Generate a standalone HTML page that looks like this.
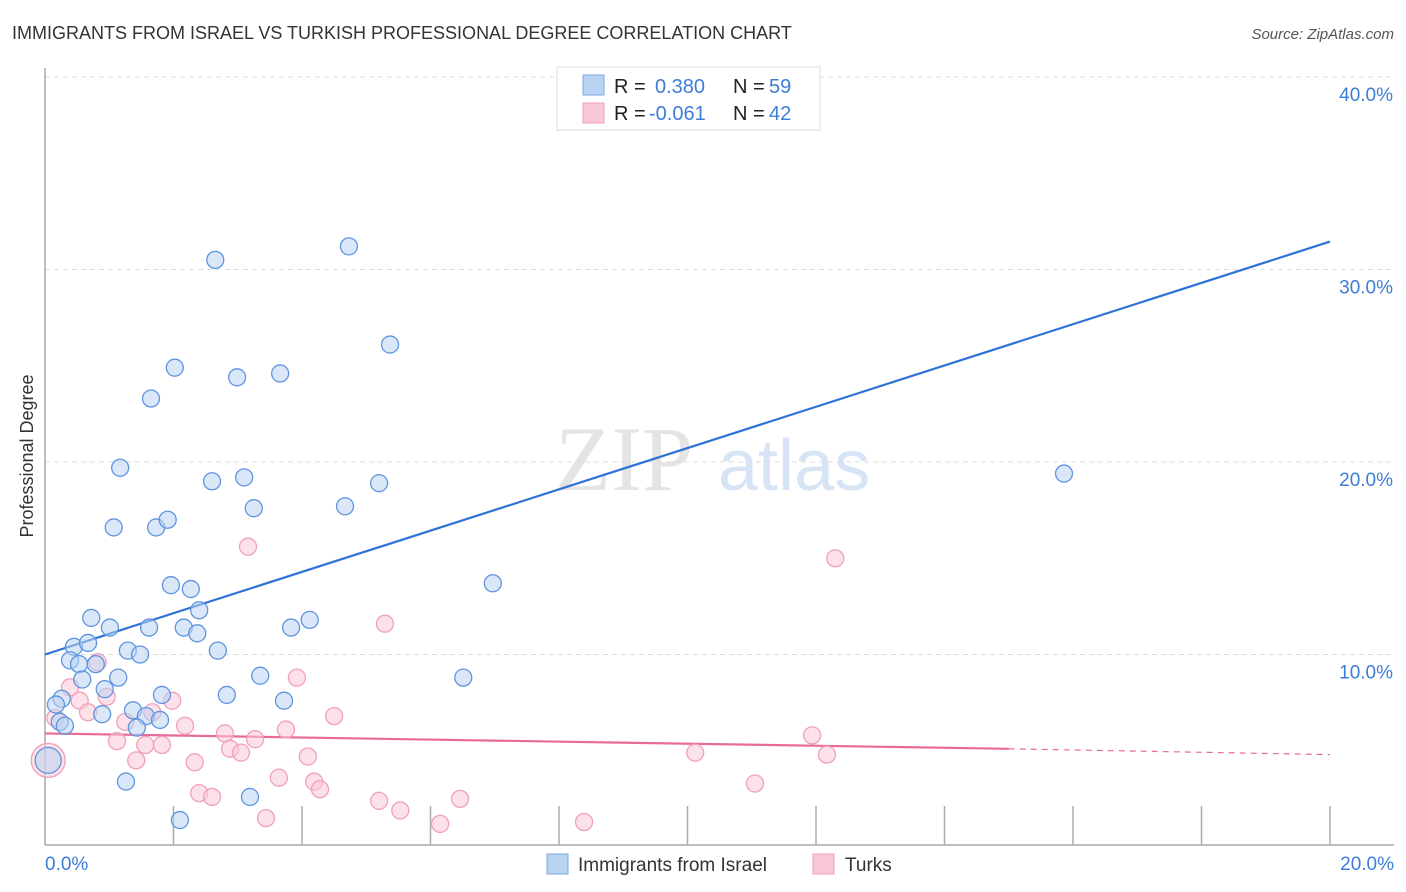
<!DOCTYPE html>
<html><head><meta charset="utf-8"><style>
body{margin:0;background:#fff;font-family:"Liberation Sans",sans-serif;}
svg{display:block}
</style></head><body>
<svg id="chart" width="1406" height="892" viewBox="0 0 1406 892">
<text x="12" y="39" font-size="18" fill="#333">IMMIGRANTS FROM ISRAEL VS TURKISH PROFESSIONAL DEGREE CORRELATION CHART</text>
<text x="1394" y="39" font-size="15" fill="#555" font-style="italic" text-anchor="end">Source: ZipAtlas.com</text>
<text transform="translate(33,456) rotate(-90)" font-size="18" fill="#333" text-anchor="middle">Professional Degree</text>
<g><text x="555" y="490" font-size="92" fill="#e4e4e4" font-family="Liberation Serif,serif">ZIP</text><text x="718" y="490" font-size="72" fill="#d6e4f5">atlas</text></g>
<g id="grid"></g><g id="axes"></g><g id="lines"></g><g id="pts"></g>
<g>
<rect x="557" y="67" width="263" height="63" fill="#fff" stroke="#ddd"/>
<rect x="583" y="75" width="21" height="20" fill="#b9d3f3" stroke="#7aa9e6"/>
<rect x="583" y="103" width="21" height="20" fill="#f9c8d7" stroke="#f0a0ba"/>
<text x="614" y="93" font-size="20" fill="#222">R = </text><text x="655" y="93" font-size="20" fill="#3d7dd8">0.380</text>
<text x="733" y="93" font-size="20" fill="#222">N = </text><text x="769" y="93" font-size="20" fill="#3d7dd8">59</text>
<text x="614" y="120" font-size="20" fill="#222">R = </text><text x="649" y="120" font-size="20" fill="#3d7dd8">-0.061</text>
<text x="733" y="120" font-size="20" fill="#222">N = </text><text x="769" y="120" font-size="20" fill="#3d7dd8">42</text>
</g>
<g>
<rect x="547" y="854" width="21" height="20" fill="#b9d3f3" stroke="#7aa9e6"/>
<text x="578" y="871" font-size="19" fill="#333">Immigrants from Israel</text>
<rect x="813" y="854" width="21" height="20" fill="#f9c8d7" stroke="#f0a0ba"/>
<text x="845" y="871" font-size="19" fill="#333">Turks</text>
</g>
</svg>
<script>
const yTicks=[10,20,30,40];
const xTickLabels=["0.0%","20.0%"];
const israelX=[2.65,4.73,5.37,2.02,2.99,3.66,1.65,1.17,2.60,3.10,5.20,15.86,1.07,1.73,1.91,3.25,4.67,1.96,2.27,2.40,6.97,0.72,1.01,1.62,2.16,2.37,3.83,4.12,0.45,0.67,0.39,0.53,0.79,1.29,1.48,2.69,0.58,1.14,3.35,6.51,0.26,0.93,0.17,1.82,2.83,3.72,0.89,1.37,1.57,1.79,0.23,0.31,1.43,0.05,1.26,3.19,2.10];
const israelY=[30.5,31.2,26.1,24.9,24.4,24.6,23.3,19.7,19.0,19.2,18.9,19.4,16.6,16.6,17.0,17.6,17.7,13.6,13.4,12.3,13.7,11.9,11.4,11.4,11.4,11.1,11.4,11.8,10.4,10.6,9.7,9.5,9.5,10.2,10.0,10.2,8.7,8.8,8.9,8.8,7.7,8.2,7.4,7.9,7.9,7.6,6.9,7.1,6.8,6.6,6.5,6.3,6.2,4.5,3.4,2.6,1.4];
const israelBig=[53];
const turksX=[3.16,12.30,5.29,0.82,3.92,0.39,0.54,0.96,1.98,0.67,1.67,4.50,0.16,1.25,2.18,2.80,3.75,3.27,1.12,1.56,1.82,2.88,3.05,4.09,10.12,11.94,12.17,1.42,2.33,0.05,3.64,4.19,4.28,2.40,2.60,5.20,6.46,5.53,3.44,6.15,8.39,11.05];
const turksY=[15.6,15.0,11.6,9.6,8.8,8.3,7.6,7.8,7.6,7.0,7.0,6.8,6.7,6.5,6.3,5.9,6.1,5.6,5.5,5.3,5.3,5.1,4.9,4.7,4.9,5.8,4.8,4.5,4.4,4.5,3.6,3.4,3.0,2.8,2.6,2.4,2.5,1.9,1.5,1.2,1.3,3.3];
const turksBig=[29];
const israelTrend=[10.0,31.45];
const turksTrend=[5.9,5.1,4.8];
const NS="http://www.w3.org/2000/svg";
const sx=v=>45+v*64.25, sy=v=>847-v*19.25;
function mk(tag,attrs,parent){const e=document.createElementNS(NS,tag);for(const k in attrs)e.setAttribute(k,attrs[k]);parent.appendChild(e);return e;}
const grid=document.getElementById('grid'),axes=document.getElementById('axes'),lines=document.getElementById('lines'),pts=document.getElementById('pts');
yTicks.forEach(t=>{
 const l=mk('line',{x1:45,x2:1394,y1:sy(t),y2:sy(t),stroke:'#ddd','stroke-dasharray':'5,4'},grid);
 
 
 const tx=mk('text',{x:1393,y:sy(t)+24,'font-size':19,fill:'#3d7dd8','text-anchor':'end'},grid);
 tx.textContent=t.toFixed(1)+'%';
 
 
});
mk('line',{x1:45,x2:45,y1:68,y2:845,stroke:'#aaa','stroke-width':1.5},axes);
mk('line',{x1:45,x2:1394,y1:845,y2:845,stroke:'#aaa','stroke-width':1.5},axes);
for(let i=1;i<=10;i++){const x=sx(i*2);const t=mk('line',{x1:x,x2:x,y1:806,y2:845,stroke:'#aaa','stroke-width':1.5},axes);
 
 }
const xl0=mk('text',{x:45,y:870,'font-size':19,fill:'#3d7dd8'},axes);xl0.textContent=xTickLabels[0];


const xl1=mk('text',{x:1394,y:870,'font-size':19,fill:'#3d7dd8','text-anchor':'end'},axes);xl1.textContent=xTickLabels[1];


function dot(x,y,r,fill,stroke,name){const c=mk('circle',{cx:sx(x),cy:sy(y),r:r,fill:fill,'fill-opacity':0.55,stroke:stroke,'stroke-width':1.3},pts);
 
 }
turksX.forEach((x,i)=>dot(x,turksY[i],turksBig.includes(i)?17:8.5,'#f9c8d7','#f0a0ba','turks-point'));
israelX.forEach((x,i)=>dot(x,israelY[i],israelBig.includes(i)?13:8.5,'#b9d3f3','#5f95e0','israel-point'));
const bl=mk('line',{x1:sx(0),y1:sy(israelTrend[0]),x2:sx(20),y2:sy(israelTrend[1]),stroke:'#2f72d6','stroke-width':2.2},lines);


const pl=mk('line',{x1:sx(0),y1:sy(turksTrend[0]),x2:sx(15),y2:sy(turksTrend[1]),stroke:'#e86b97','stroke-width':2.2},lines);


const pd=mk('line',{x1:sx(15),y1:sy(turksTrend[1]),x2:sx(20),y2:sy(turksTrend[2]),stroke:'#e86b97','stroke-width':1.2,'stroke-dasharray':'6,5'},lines);


</script>
</body></html>
